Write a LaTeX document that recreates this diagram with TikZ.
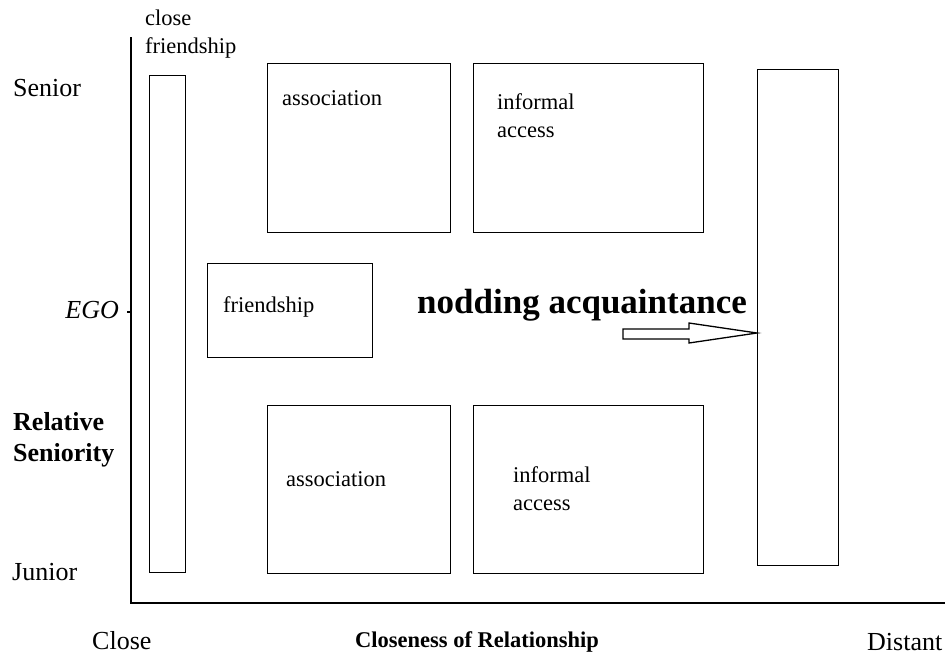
\documentclass[tikz,border=0pt]{standalone}
\usepackage{fontspec}
\setmainfont{Liberation Serif}
\begin{document}
\begin{tikzpicture}[x=1pt,y=-1pt,
  box/.style={draw=black, line width=1.3pt, inner sep=0pt, anchor=north west},
  axis/.style={draw=black, line width=1.4pt},
  small/.style={inner sep=0pt, anchor=base west, font=\fontsize{22.5}{28}\selectfont},
  big/.style={inner sep=0pt, anchor=base west, font=\fontsize{26}{31}\selectfont},
  bigbold/.style={inner sep=0pt, anchor=base west, font=\fontsize{26}{31}\selectfont\bfseries},
  smallbold/.style={inner sep=0pt, anchor=base west, font=\fontsize{22.5}{28}\selectfont\bfseries},
  hugebold/.style={inner sep=0pt, anchor=base west, font=\fontsize{35}{40}\selectfont\bfseries},
  blockarrow/.style={draw=black, line width=1.3pt, fill=white}]
\useasboundingbox (0,0) rectangle (945,654);

% axes
\coordinate (ytop) at (131,37);
\coordinate (origin) at (131,603);
\coordinate (xend) at (945,603);
\coordinate (ego) at (131,312);
\coordinate (egotick) at (127,312);
\draw[axis] (ytop) -- (origin) -- (xend);
\draw[axis] (egotick) -- (ego);

% boxes
\node[box, minimum width=36pt, minimum height=497pt] (cf) at (149,75) {};
\node[box, minimum width=183pt, minimum height=169pt] (assocT) at (267,63) {};
\node[box, minimum width=230pt, minimum height=169pt] (infT) at (473,63) {};
\node[box, minimum width=165pt, minimum height=94pt] (friend) at (207,263) {};
\node[box, minimum width=183pt, minimum height=168pt] (assocB) at (267,405) {};
\node[box, minimum width=230pt, minimum height=168pt] (infB) at (473,405) {};
\node[box, minimum width=81pt, minimum height=496pt] (nod) at (757,69) {};

% block arrow pointing to the nodding acquaintance box
\coordinate (tip) at (nod.west |- 0,333);
\draw[blockarrow] (623,329) -- (689,329) -- (689,323) -- (tip) -- (689,343) -- (689,339) -- (623,339) -- cycle;

% texts
\node[small] (cfa) at (145,25) {close};
\node[small] (cfb) at (145,53) {friendship};
\node[big] (senior) at (13,96) {Senior};
\node[big, anchor=base east] (egolabel) at (119,318) {\itshape EGO};
\node[bigbold] (rel) at (13,430) {Relative};
\node[bigbold] (sen) at (13,461) {Seniority};
\node[big] (junior) at (12,580) {Junior};
\node[big] (close) at (92,649) {Close};
\node[smallbold] (xlabel) at (355,647) {Closeness of Relationship};
\node[big] (distant) at (867,650) {Distant};

\node[small] (assocTl) at (282,105) {association};
\node[small] (infTa) at (497,109) {informal};
\node[small] (infTb) at (497,137) {access};
\node[small] (friendl) at (223,312) {friendship};
\node[hugebold] (nodl) at (417,313) {nodding acquaintance};
\node[small] (assocBl) at (286,486) {association};
\node[small] (infBa) at (513,482) {informal};
\node[small] (infBb) at (513,510) {access};
\end{tikzpicture}
\end{document}
